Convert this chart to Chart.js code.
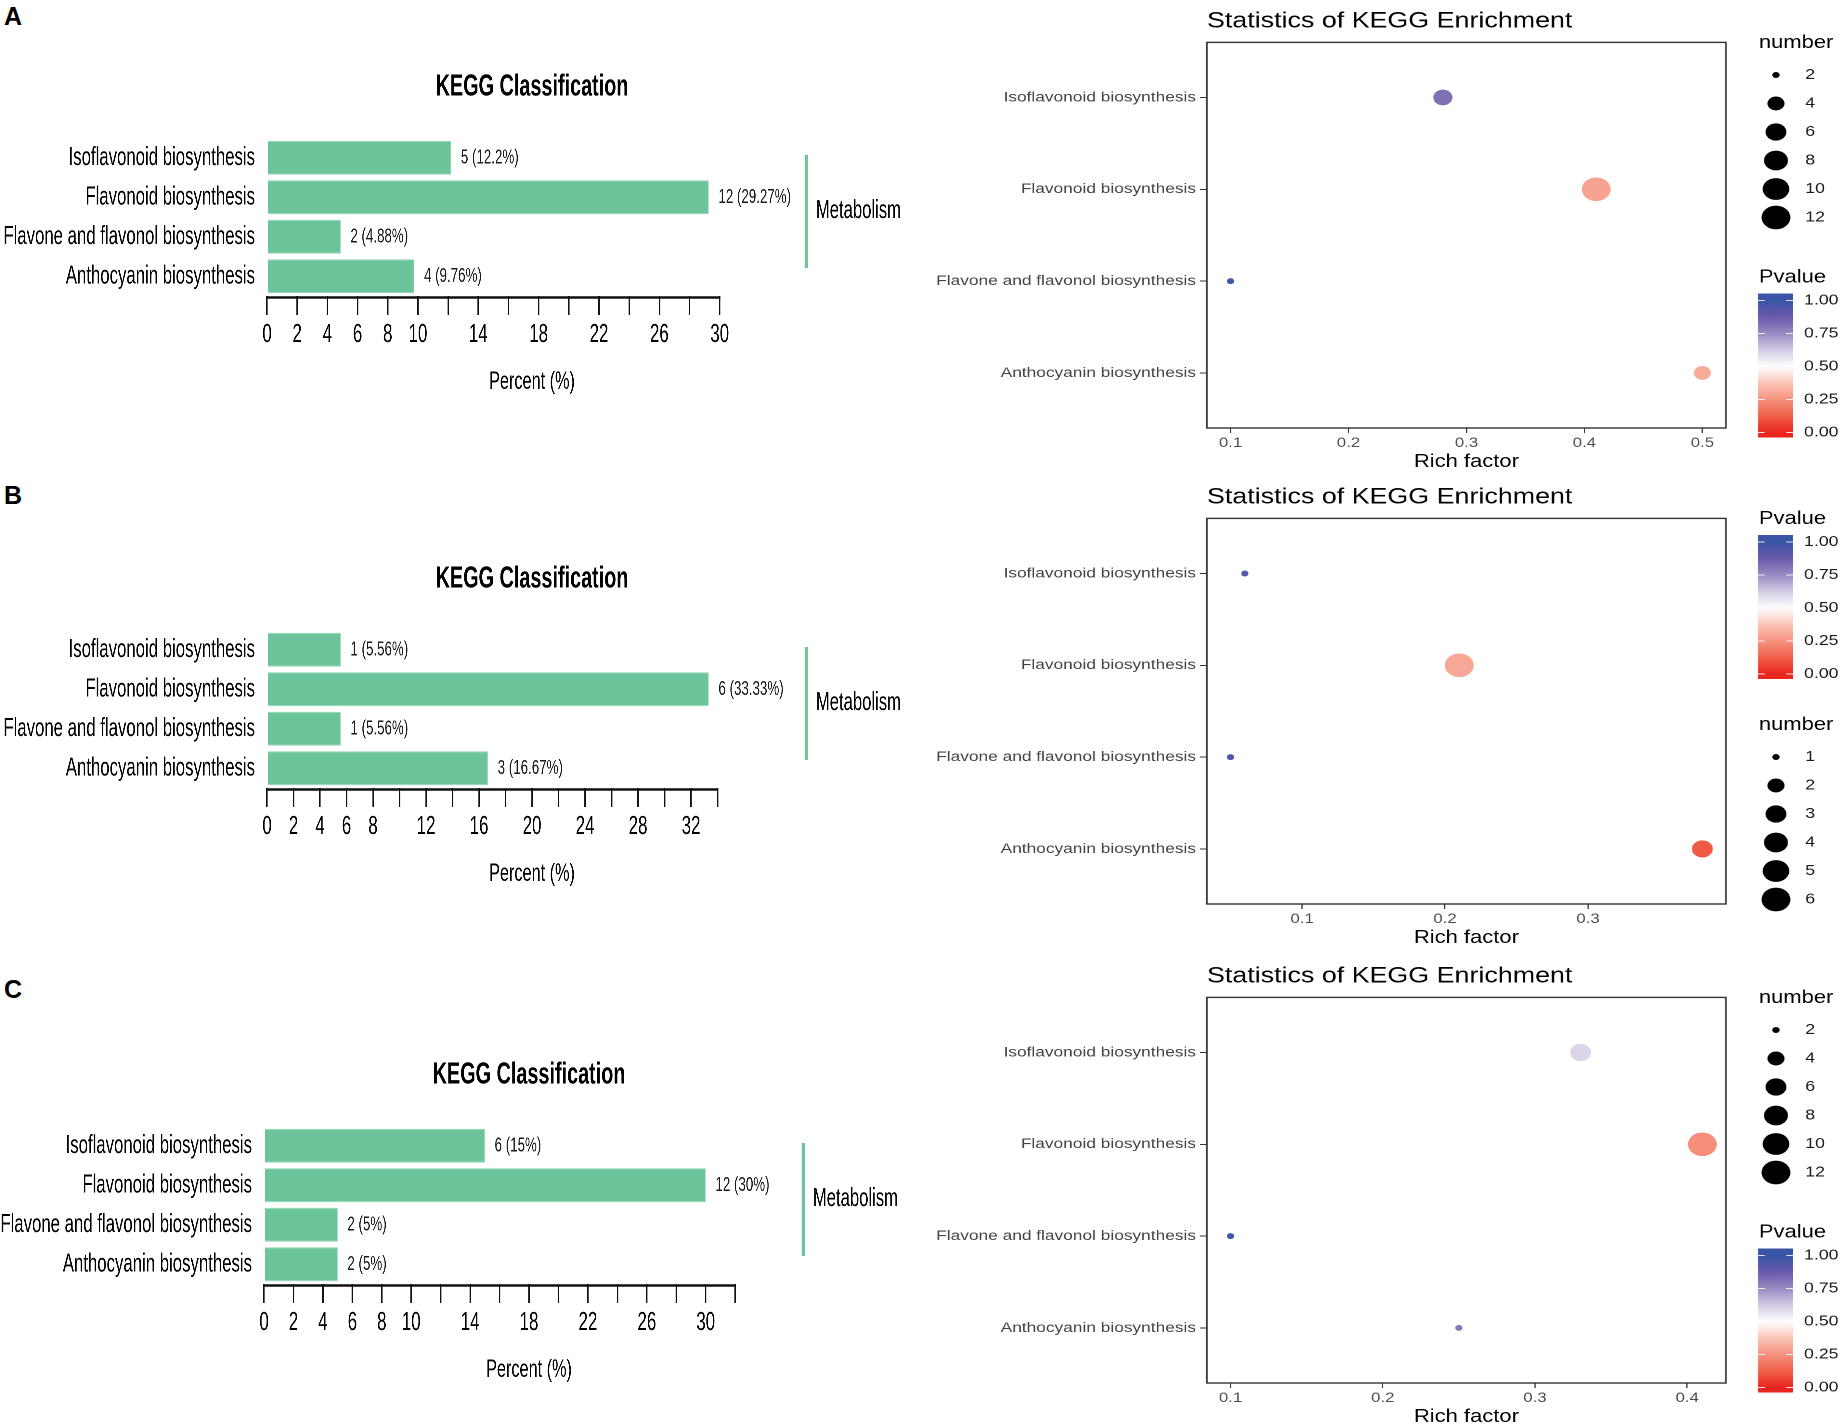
<!DOCTYPE html>
<html>
<head>
<meta charset="utf-8">
<script src="https://cdn.jsdelivr.net/npm/chart.js@4.4.0/dist/chart.umd.min.js"></script>
<style>
  body { margin: 0; width: 1838px; height: 1424px; overflow: hidden; position: relative; background: #fff; }
  .tag { position: absolute; left: 4px; font: bold 25px "Liberation Sans", Arial, sans-serif; line-height: 25px; color: #000; }
  .bar-wrap { position: absolute; transform: scaleX(0.65); transform-origin: 0 0; }
  .dot-wrap { position: absolute; left: 900px; transform: scaleX(1.22); transform-origin: 0 0; }
  canvas { display: block; }
</style>
</head>
<body>
<div class="tag" style="top:4px">A</div>
<div class="tag" style="top:483px">B</div>
<div class="tag" style="top:977px">C</div>

<div class="bar-wrap" style="left:0px;top:0px"><canvas id="barA" width="1415" height="430"></canvas></div>
<div class="bar-wrap" style="left:0px;top:492px"><canvas id="barB" width="1415" height="430"></canvas></div>
<div class="bar-wrap" style="left:-3px;top:988px"><canvas id="barC" width="1415" height="430"></canvas></div>

<div class="dot-wrap" style="top:0px"><canvas id="dotA" width="769" height="475"></canvas></div>
<div class="dot-wrap" style="top:476px"><canvas id="dotB" width="769" height="475"></canvas></div>
<div class="dot-wrap" style="top:955px"><canvas id="dotC" width="769" height="475"></canvas></div>

<script>
// Pathways (same order in every panel, top to bottom)
const categories = ['Isoflavonoid biosynthesis', 'Flavonoid biosynthesis', 'Flavone and flavonol biosynthesis', 'Anthocyanin biosynthesis'];

// KEGG classification: gene counts and percent
const countsA = [5, 12, 2, 4];
const percentA = [12.2, 29.27, 4.88, 9.76];
const countsB = [1, 6, 1, 3];
const percentB = [5.56, 33.33, 5.56, 16.67];
const countsC = [6, 12, 2, 2];
const percentC = [15, 30, 5, 5];

// percent axis tick labels and where the axis line stops
const percentTicksA = [0, 2, 4, 6, 8, 10, 14, 18, 22, 26, 30];
const percentTicksB = [0, 2, 4, 6, 8, 12, 16, 20, 24, 28, 32];
const percentTicksC = [0, 2, 4, 6, 8, 10, 14, 18, 22, 26, 30];
const axisEndA = 30;
const axisEndB = 34;
const axisEndC = 32;

// KEGG enrichment: rich factor and p value
const richA = [0.28, 0.41, 0.10, 0.50];
const pvalA = [0.82, 0.29, 0.98, 0.31];
const richB = [0.06, 0.21, 0.05, 0.38];
const pvalB = [0.93, 0.30, 0.95, 0.11];
const richC = [0.33, 0.41, 0.10, 0.25];
const pvalC = [0.60, 0.24, 0.98, 0.80];

const richTicksA = [0.1, 0.2, 0.3, 0.4, 0.5];
const richTicksB = [0.1, 0.2, 0.3];
const richTicksC = [0.1, 0.2, 0.3, 0.4];

// size legend entries
const sizeKeysA = [2, 4, 6, 8, 10, 12];
const sizeKeysB = [1, 2, 3, 4, 5, 6];
const sizeKeysC = [2, 4, 6, 8, 10, 12];
const pvalueKeys = [1, 0.75, 0.5, 0.25, 0];

Chart.defaults.font.family = '"Liberation Sans", Arial, sans-serif';

const barGreen = '#6cc49b';

// red - white - blue scale for p value
const pStops = [
    [0, [232, 37, 31]], [0.125, [240, 97, 74]], [0.25, [245, 147, 127]], [0.375, [250, 197, 184]],
    [0.5, [255, 255, 255]], [0.625, [211, 203, 229]], [0.75, [154, 138, 194]], [0.875, [106, 90, 171]],
    [1, [58, 85, 165]]
];
function pColor(v) {
    v = Math.max(0, Math.min(1, v));
    for (let i = 1; i < pStops.length; i++) {
        if (v <= pStops[i][0]) {
            const [a, ca] = pStops[i - 1], [b, cb] = pStops[i];
            const t = (v - a) / (b - a);
            const c = ca.map((x, k) => Math.round(x + (cb[k] - x) * t));
            return `rgb(${c[0]},${c[1]},${c[2]})`;
        }
    }
    return 'rgb(58,85,165)';
}

// ggplot-like area scale for the dot size
function dotRadius(n, lo, hi) {
    const size = 1 + 5 * Math.sqrt((n - lo) / (hi - lo));
    return (3.54 * size + 2.46) / 2;
}

// axis line, value labels and the Metabolism bracket
const barDecor = {
    id: 'barDecor',
    afterDraw(chart, args, opts) {
        const {ctx, chartArea} = chart;
        const x = chart.scales.x, y = chart.scales.y;
        ctx.save();
        ctx.strokeStyle = '#111';
        ctx.lineWidth = 2.5;
        ctx.beginPath();
        ctx.moveTo(x.getPixelForValue(0) - 1, chartArea.bottom + 1.5);
        ctx.lineTo(x.getPixelForValue(opts.axisEnd) + 1, chartArea.bottom + 1.5);
        ctx.stroke();

        ctx.font = '20.5px "Liberation Sans", Arial, sans-serif';
        ctx.fillStyle = '#1a1a1a';
        ctx.textAlign = 'left';
        ctx.textBaseline = 'middle';
        opts.percents.forEach((p, i) => {
            ctx.fillText(opts.counts[i] + ' (' + p + '%)', x.getPixelForValue(p) + 15, y.getPixelForValue(i));
        });

        ctx.strokeStyle = barGreen;
        ctx.lineWidth = 4.6;
        ctx.beginPath();
        ctx.moveTo(chartArea.right + 14, chartArea.top + 17);
        ctx.lineTo(chartArea.right + 14, chartArea.top + 130);
        ctx.stroke();
        ctx.font = '25.6px "Liberation Sans", Arial, sans-serif';
        ctx.fillStyle = '#000';
        ctx.fillText('Metabolism', chartArea.right + 29, chartArea.top + 73);
        ctx.restore();
    }
};

function makeBarChart(id, counts, percents, tickLabels, axisEnd) {
    const maxX = Math.max(...percents) * 1.2;
    const tickVals = [];
    for (let v = 0; v <= axisEnd; v += 2) tickVals.push(v);
    return new Chart(document.getElementById(id), {
        type: 'bar',
        data: {
            labels: categories,
            datasets: [{
                data: percents,
                backgroundColor: barGreen,
                borderColor: '#9ad7b9',
                borderWidth: 1,
                barPercentage: 0.863,
                categoryPercentage: 1
            }]
        },
        options: {
            indexAxis: 'y',
            responsive: false,
            animation: false,
            devicePixelRatio: 2,
            layout: { padding: { top: 0, right: 188.8, bottom: 0, left: 0 } },
            plugins: {
                legend: { display: false },
                tooltip: { enabled: false },
                title: {
                    display: true,
                    text: 'KEGG Classification',
                    fullSize: false,
                    color: '#000',
                    font: { size: 30.5, weight: 'bold' },
                    padding: { top: 68.7, bottom: 32.7 }
                },
                barDecor: { counts, percents, axisEnd }
            },
            scales: {
                x: {
                    type: 'linear',
                    min: 0,
                    max: maxX,
                    afterBuildTicks: (s) => { s.ticks = tickVals.map(v => ({ value: v })); },
                    afterFit: (s) => { s.height = 134; },
                    grid: { display: true, drawOnChartArea: false, drawTicks: true, tickLength: 19, color: '#111', lineWidth: 2.2 },
                    border: { display: false },
                    ticks: {
                        autoSkip: false,
                        maxRotation: 0,
                        padding: 4.4,
                        color: '#000',
                        font: { size: 26 },
                        callback: (v) => tickLabels.includes(v) ? String(v) : ''
                    },
                    title: { display: true, text: 'Percent (%)', color: '#000', font: { size: 25 }, padding: { top: 0, bottom: 33 } }
                },
                y: {
                    afterFit: (s) => { s.width = 410.8; },
                    grid: { display: false, drawTicks: false },
                    border: { display: false },
                    ticks: { padding: 18.5, color: '#000', font: { size: 25.8 } }
                }
            }
        },
        plugins: [barDecor]
    });
}

// panel box and the two legends
const dotDecor = {
    id: 'dotDecor',
    beforeDatasetsDraw(chart) {
        const {ctx, chartArea} = chart;
        ctx.save();
        ctx.strokeStyle = '#333';
        ctx.lineWidth = 1.4;
        ctx.strokeRect(chartArea.left, chartArea.top, chartArea.right - chartArea.left, chartArea.bottom - chartArea.top);
        ctx.restore();
    },
    afterDraw(chart, args, opts) {
        const ctx = chart.ctx;
        ctx.save();
        ctx.textBaseline = 'middle';
        ctx.textAlign = 'left';
        let y = 43;
        opts.order.forEach(block => {
            ctx.fillStyle = '#000';
            ctx.font = '18px "Liberation Sans", Arial, sans-serif';
            if (block === 'number') {
                ctx.fillText('number', 704, y);
                ctx.font = '14.5px "Liberation Sans", Arial, sans-serif';
                opts.sizeKeys.forEach((n, i) => {
                    const yy = y + 32 + i * 28.5;
                    ctx.fillStyle = '#000';
                    ctx.beginPath();
                    ctx.arc(718, yy, dotRadius(n, opts.nLo, opts.nHi), 0, Math.PI * 2);
                    ctx.fill();
                    ctx.fillStyle = '#1a1a1a';
                    ctx.fillText(String(n), 742, yy);
                });
                y = y + 32 + (opts.sizeKeys.length - 1) * 28.5 + 60;
            } else {
                ctx.fillText('Pvalue', 704, y);
                const top = y + 16, bottom = y + 160, left = 703.3, right = 732;
                const yOne = y + 23, span = 132;
                const grad = ctx.createLinearGradient(0, top, 0, bottom);
                for (let k = 0; k <= 40; k++) {
                    const t = k / 40;
                    const v = 1 - (top + t * (bottom - top) - yOne) / span;
                    grad.addColorStop(t, pColor(v));
                }
                ctx.fillStyle = grad;
                ctx.fillRect(left, top, right - left, bottom - top);
                ctx.strokeStyle = 'rgba(255,255,255,0.85)';
                ctx.lineWidth = 1;
                ctx.font = '14.5px "Liberation Sans", Arial, sans-serif';
                pvalueKeys.forEach(v => {
                    const yy = yOne + (1 - v) * span;
                    ctx.beginPath();
                    ctx.moveTo(left, yy); ctx.lineTo(left + 5.5, yy);
                    ctx.moveTo(right - 5.5, yy); ctx.lineTo(right, yy);
                    ctx.stroke();
                    ctx.fillStyle = '#1a1a1a';
                    ctx.fillText(v.toFixed(2), 741, yy);
                });
                y = bottom + 46;
            }
        });
        ctx.restore();
    }
};

function makeDotChart(id, rich, pvals, counts, richTicks, sizeKeys, order) {
    const lo = Math.min(...rich), hi = Math.max(...rich), pad = (hi - lo) * 0.05;
    const nLo = Math.min(...counts), nHi = Math.max(...counts);
    const radii = counts.map(n => dotRadius(n, nLo, nHi));
    return new Chart(document.getElementById(id), {
        type: 'scatter',
        data: {
            datasets: [{
                data: rich.map((x, i) => ({ x: x, y: i })),
                pointBackgroundColor: pvals.map(pColor),
                pointBorderWidth: 0,
                pointRadius: radii,
                pointHoverRadius: radii
            }]
        },
        options: {
            responsive: false,
            animation: false,
            devicePixelRatio: 2,
            layout: { padding: { top: 0, right: 92, bottom: 0, left: 0 } },
            plugins: {
                legend: { display: false },
                tooltip: { enabled: false },
                title: {
                    display: true,
                    text: 'Statistics of KEGG Enrichment',
                    align: 'start',
                    fullSize: false,
                    color: '#000',
                    font: { size: 22, weight: 'normal' },
                    padding: { top: 8, bottom: 8 }
                },
                dotDecor: { order, sizeKeys, nLo, nHi }
            },
            scales: {
                x: {
                    type: 'linear',
                    min: lo - pad,
                    max: hi + pad,
                    afterBuildTicks: (s) => { s.ticks = richTicks.map(v => ({ value: v })); },
                    afterFit: (s) => { s.height = 47; },
                    grid: { display: true, drawOnChartArea: false, drawTicks: true, tickLength: 5, color: '#333', lineWidth: 1 },
                    border: { display: false },
                    ticks: { autoSkip: false, maxRotation: 0, padding: 2, color: '#4d4d4d', font: { size: 13.8 }, callback: (v) => v.toFixed(1) },
                    title: { display: true, text: 'Rich factor', color: '#000', font: { size: 18 }, padding: { top: 0, bottom: 2.2 } }
                },
                y: {
                    type: 'linear',
                    reverse: true,
                    min: -0.6,
                    max: 3.6,
                    afterBuildTicks: (s) => { s.ticks = categories.map((c, i) => ({ value: i })); },
                    afterFit: (s) => { s.width = 251.6; },
                    grid: { display: true, drawOnChartArea: false, drawTicks: true, tickLength: 5.7, color: '#333', lineWidth: 1 },
                    border: { display: false },
                    ticks: { autoSkip: false, padding: 3.3, color: '#444', font: { size: 14.2 }, callback: (v) => categories[v] }
                }
            }
        },
        plugins: [dotDecor]
    });
}

makeBarChart('barA', countsA, percentA, percentTicksA, axisEndA);
makeBarChart('barB', countsB, percentB, percentTicksB, axisEndB);
makeBarChart('barC', countsC, percentC, percentTicksC, axisEndC);

makeDotChart('dotA', richA, pvalA, countsA, richTicksA, sizeKeysA, ['number', 'pvalue']);
makeDotChart('dotB', richB, pvalB, countsB, richTicksB, sizeKeysB, ['pvalue', 'number']);
makeDotChart('dotC', richC, pvalC, countsC, richTicksC, sizeKeysC, ['number', 'pvalue']);
</script>
</body>
</html>
